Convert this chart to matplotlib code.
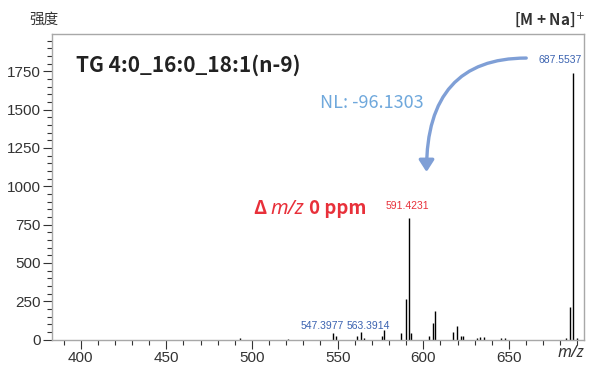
import numpy as np
import matplotlib
matplotlib.use('Agg')
import matplotlib.pyplot as plt
from matplotlib.ticker import MultipleLocator

# peak list (m/z, intensity)
mz = [493.0, 521.2, 547.3977, 549.2, 561.5, 563.3914, 565.4, 575.7, 577.1,
      587.2, 589.7, 591.4231, 593.0, 603.5, 605.8, 606.8, 617.5, 619.8,
      621.8, 623.4, 631.5, 633.1, 635.6, 645.4, 647.7, 683.5, 685.8,
      687.5537, 689.9]
intensity = [8, 4, 41, 25, 22, 48, 10, 20, 59,
             41, 264, 795, 42, 20, 106, 186, 49, 88,
             22, 20, 10, 15, 15, 8, 12, 12, 214,
             1738, 12]

xticks = [400, 450, 500, 550, 600, 650]
yticks = [0, 250, 500, 750, 1000, 1250, 1500, 1750]

title = 'TG 4:0_16:0_18:1(n-9)'
nl_text = 'NL: -96.1303'
cjk = ['Noto Sans CJK JP', 'DejaVu Sans']
sans = ['Liberation Sans', 'DejaVu Sans']

W, H = 592, 367

def fx(px):
    return px / W

def fy(py):
    return 1 - py / H

fig = plt.figure(figsize=(W/100, H/100), dpi=100)
ax = fig.add_axes([fx(51.7), 27.5/H, (584.3-51.7)/W, (339.5-34.3)/H])

ax.vlines(mz, 0, intensity, color='black', lw=1.0)
ax.set_xlim(383.1, 694.0)
ax.set_ylim(0, 1992)

for s in ax.spines.values():
    s.set_color('#a8a8a8')
    s.set_linewidth(1.0)

ax.set_xticks(xticks)
ax.set_yticks(yticks)
ax.xaxis.set_minor_locator(MultipleLocator(10))
ax.yaxis.set_minor_locator(MultipleLocator(50))
ax.tick_params(which='major', direction='out', length=6.5, width=0.8,
               color='#333333', labelcolor='#333333', pad=1.5)
ax.tick_params(which='minor', direction='out', length=3.4, width=0.8,
               color='#333333')
for lab in ax.get_xticklabels() + ax.get_yticklabels():
    lab.set_family(sans)
    lab.set_fontsize(11)

# axis captions
fig.text(fx(44), fy(20), '强度', family=['Noto Sans CJK SC', 'DejaVu Sans'],
         fontsize=10.5, color='#333333', ha='center', va='center')
fig.text(fx(549), fy(20), '[M + Na]$^{+}$', family=cjk, fontsize=11,
         fontweight='bold', color='#333333', ha='center', va='center')
fig.text(fx(571), fy(353), 'm/z', family=['Noto Sans', 'DejaVu Sans'],
         style='italic', fontsize=11.5, color='#333333', ha='center', va='center')

# annotations
ax.text(397.3, 1791, title, family=cjk, fontweight='bold', fontsize=15,
        color='#222222', ha='left', va='center')
ax.text(539.5, 1544, nl_text, family=cjk, fontsize=13,
        color='#6fa8dc', ha='left', va='center')

red = '#e8303a'
fig.text(fx(253), fy(214.5), 'Δ', family=cjk, fontweight='bold',
         fontsize=13.4, color=red, ha='left', va='baseline')
fig.text(fx(270), fy(214.5), 'm/z', family=['Noto Sans', 'DejaVu Sans'],
         style='italic', fontsize=14.5, color=red, ha='left', va='baseline')
fig.text(fx(309), fy(214.5), '0 ppm', family=cjk, fontweight='bold',
         fontsize=13.4, color=red, ha='left', va='baseline')

peak_lab = [(560.5, 60, '687.5537', '#3a62b0'),
            (407.5, 206, '591.4231', red),
            (322, 326, '547.3977', '#3a62b0'),
            (368, 326, '563.3914', '#3a62b0')]
for px, py, t, c in peak_lab:
    fig.text(fx(px), fy(py), t, family=sans, fontsize=7.5, color=c,
             ha='center', va='center')

# curved neutral-loss arrow
ax.annotate('', xy=(601.9, 1093), xytext=(660.1, 1837),
            arrowprops=dict(arrowstyle='-|>,head_length=0.7,head_width=0.45',
                            connectionstyle='angle3,angleA=0,angleB=90',
                            color='#7f9fd6', lw=2.4, shrinkA=0, shrinkB=0))

fig.savefig('out.png', dpi=100)
